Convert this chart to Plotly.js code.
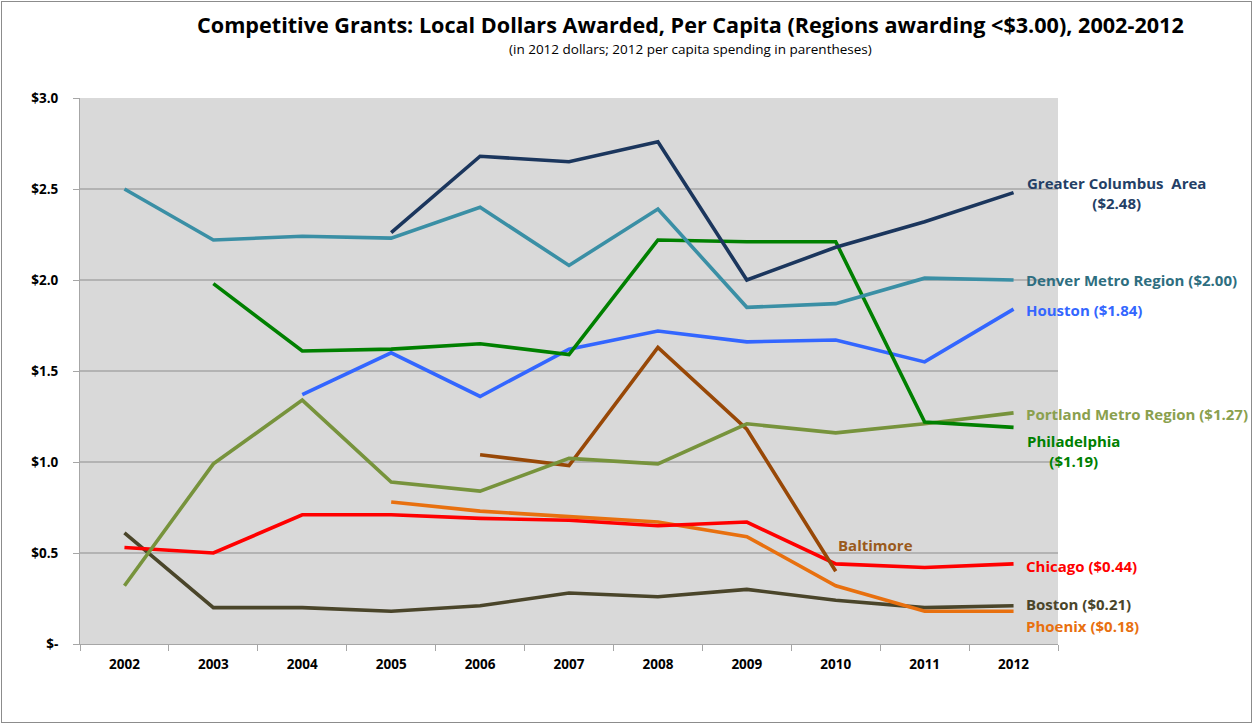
<!DOCTYPE html>
<html>
<head>
<meta charset="utf-8">
<script src="https://cdn.plot.ly/plotly-3.0.1.min.js"></script>
<style>
html,body{margin:0;padding:0;background:#fff;}
#frame{position:absolute;left:1px;top:1px;width:1251px;height:722px;border:1px solid #8c8c8c;box-sizing:border-box;}
#chart{position:absolute;left:0;top:0;width:1255px;height:726px;}
</style>
</head>
<body>
<div id="chart"></div>
<div id="frame"></div>
<script>
const years = ['2002','2003','2004','2005','2006','2007','2008','2009','2010','2011','2012'];

const columbus     = [null, null, null, 2.26, 2.68, 2.65, 2.76, 2.00, 2.18, 2.32, 2.48];
const denver       = [2.50, 2.22, 2.24, 2.23, 2.40, 2.08, 2.39, 1.85, 1.87, 2.01, 2.00];
const houston      = [null, null, 1.37, 1.60, 1.36, 1.62, 1.72, 1.66, 1.67, 1.55, 1.84];
const philadelphia = [null, 1.98, 1.61, 1.62, 1.65, 1.59, 2.22, 2.21, 2.21, 1.22, 1.19];
const portland     = [0.32, 0.99, 1.34, 0.89, 0.84, 1.02, 0.99, 1.21, 1.16, 1.21, 1.27];
const baltimore    = [null, null, null, null, 1.04, 0.98, 1.63, 1.18, 0.40, null, null];
const chicago      = [0.53, 0.50, 0.71, 0.71, 0.69, 0.68, 0.65, 0.67, 0.44, 0.42, 0.44];
const phoenix      = [null, null, null, 0.78, 0.73, 0.70, 0.67, 0.59, 0.32, 0.18, 0.18];
const boston       = [0.61, 0.20, 0.20, 0.18, 0.21, 0.28, 0.26, 0.30, 0.24, 0.20, 0.21];

const yTickVals = [0, 0.5, 1.0, 1.5, 2.0, 2.5, 3.0];
const yTickText = ['$-', '$0.5', '$1.0', '$1.5', '$2.0', '$2.5', '$3.0'];

const seriesNames = ['Greater Columbus Area','Denver Metro Region','Houston','Philadelphia','Portland Metro Region','Baltimore','Chicago','Phoenix','Boston'];
const seriesData  = [columbus, denver, houston, philadelphia, portland, baltimore, chicago, phoenix, boston];
const lineColors  = ['#1b365d','#3a8fa5','#3366ff','#008000','#77933c','#984807','#ff0000','#e8700f','#4a452a'];

const drawOrder = [8,7,6,5,4,2,3,1,0];
const traces = drawOrder.map(i => ({
  type: 'scatter', mode: 'lines', name: seriesNames[i],
  x: years, y: seriesData[i],
  line: {color: lineColors[i], width: 3.6},
  connectgaps: false, hoverinfo: 'x+y+name'
}));

const F = '"Open Sans", Lato, sans-serif';
const lbl = (text, color, y, opts) => Object.assign({
  text: '<b>' + text + '</b>', xref: 'x', yref: 'y', x: 10, y: y,
  xanchor: 'left', yanchor: 'middle', xshift: 10, showarrow: false,
  font: {family: F, size: 15, color: color}, align: 'left'
}, opts || {});

const annotations = [
  {text: '<b>Competitive Grants: Local Dollars Awarded, Per Capita (Regions awarding &lt;$3.00), 2002-2012</b>',
   xref: 'paper', yref: 'paper', x: 0.624, y: 1, yshift: 74, xanchor: 'center', yanchor: 'middle',
   showarrow: false, font: {family: F, size: 21.6, color: '#000'}},
  {text: '(in 2012 dollars; 2012 per capita spending in parentheses)',
   xref: 'paper', yref: 'paper', x: 0.624, y: 1, yshift: 49, xanchor: 'center', yanchor: 'middle',
   showarrow: false, font: {family: F, size: 13.5, color: '#000'}},
  lbl('Greater Columbus  Area<br>($2.48)', '#243f66', 2.48, {xanchor: 'center', xshift: 103, align: 'center'}),
  lbl('Denver Metro Region ($2.00)', '#2e6e80', 2.0),
  lbl('Houston ($1.84)', '#3366ff', 1.835),
  lbl('Portland Metro Region ($1.27)', '#8aa04e', 1.265),
  lbl('Philadelphia<br>($1.19)', '#008000', 1.06, {xanchor: 'center', xshift: 60, align: 'center'}),
  lbl('Baltimore', '#9a5a1c', 0.545, {x: 8, xshift: 0}),
  lbl('Chicago ($0.44)', '#ff0000', 0.43),
  lbl('Boston ($0.21)', '#4a452a', 0.22),
  lbl('Phoenix ($0.18)', '#e8700f', 0.10)
];

const layout = {
  width: 1255, height: 726,
  margin: {l: 80, r: 197, t: 98, b: 82},
  paper_bgcolor: '#ffffff', plot_bgcolor: '#d9d9d9',
  showlegend: false,
  font: {family: F, color: '#000'},
  xaxis: {
    type: 'category', range: [-0.5, 10.5], tickson: 'boundaries',
    ticks: 'outside', ticklen: 6, tickcolor: '#a6a6a6', tickwidth: 1,
    showline: true, linecolor: '#a6a6a6', linewidth: 1,
    showgrid: false, zeroline: false,
    tickfont: {family: F, size: 13.5, color: '#000', weight: 'bold'},
    ticklabelstandoff: 8, fixedrange: true
  },
  yaxis: {
    range: [0, 3.0], tickvals: yTickVals, ticktext: yTickText,
    ticks: 'outside', ticklen: 6, tickcolor: '#a6a6a6', tickwidth: 1,
    showline: true, linecolor: '#a6a6a6', linewidth: 1,
    showgrid: true, gridcolor: '#b3b3b3', gridwidth: 1.5, zeroline: false,
    tickfont: {family: F, size: 13.5, color: '#000', weight: 'bold'},
    ticklabelstandoff: 12, fixedrange: true
  },
  annotations: annotations
};

Plotly.newPlot('chart', traces, layout, {displayModeBar: false, staticPlot: true});
</script>
</body>
</html>
